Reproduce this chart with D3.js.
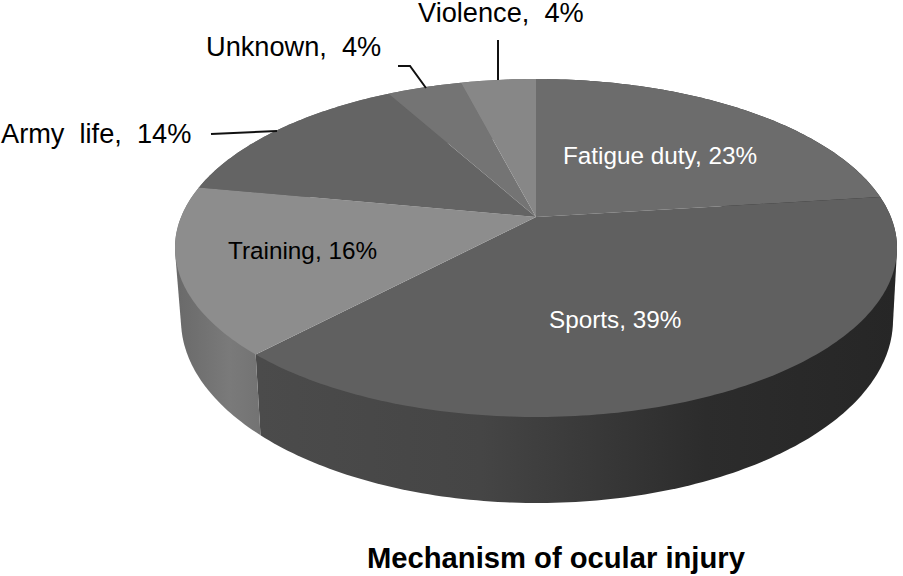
<!DOCTYPE html>
<html>
<head>
<meta charset="utf-8">
<script src="https://cdn.jsdelivr.net/npm/d3@7"></script>
<style>
    html, body { margin: 0; padding: 0; background: #fff; }
    text { font-family: "Liberation Sans", Arial, sans-serif; white-space: pre; }
</style>
</head>
<body>
<svg id="chart" width="903" height="576"></svg>
<script>
    //============================================================
    // Data
    //------------------------------------------------------------

    var categories = ['Fatigue duty', 'Sports', 'Training', 'Army  life', 'Unknown', 'Violence'];
    var values = [23, 39, 16, 14, 4, 4];
    var title = 'Mechanism of ocular injury';

    //============================================================
    // Styles and layout
    //------------------------------------------------------------

    var topColors = ['#6c6c6c', '#606060', '#8d8d8d', '#646464', '#747474', '#878787'];
    var sideFills = ['url(#sideDark)', 'url(#sideDark)', 'url(#sideLight)', '#666', '#666', '#666'];
    var labelColors = ['#fff', '#fff', '#000', '#000', '#000', '#000'];

    var labels = [
        {x: 563, y: 164, size: 24.3},
        {x: 549, y: 328, size: 24.3},
        {x: 228, y: 259, size: 24.3},
        {x: 1, y: 143, size: 27.2},
        {x: 206, y: 56, size: 27.2},
        {x: 418, y: 22, size: 27.2}
    ];

    var leaders = [
        null,
        null,
        null,
        [[211, 134], [277, 131]],
        [[398, 66], [410, 66], [426, 88]],
        [[498, 40], [498, 80]]
    ];

    // ellipse of the top face, and of the lower rim seen through it
    var rim = {cx: 536, cy: 248, rx: 361, ry: 169};
    var lower = {cx: 537, cy: 320, rx: 356, ry: 183};

    // perspective shift of the pie centre inside the ellipse
    var k = 0.183;

    //============================================================
    // Projection of the flat pie onto the tilted disc
    //------------------------------------------------------------

    function project(angle, radius, face) {
        var u = radius * Math.sin(angle),
            v = radius * Math.cos(angle),
            d = 1 + k * v;
        return [
            face.cx + face.rx * u * Math.sqrt(1 - k * k) / d,
            face.cy - face.ry * (v + k) / d
        ];
    }

    function arcPoints(start, end, face) {
        var n = Math.max(2, Math.ceil((end - start) * 60));
        return d3.range(n + 1).map(function(i) {
            return project(start + (end - start) * i / n, 1, face);
        });
    }

    var slices = d3.pie().sort(null)(values);
    var line = d3.line();
    var svg = d3.select('#chart');

    //============================================================
    // Side gradients
    //------------------------------------------------------------

    var defs = svg.append('defs');

    function addGradient(id, x1, x2, stops) {
        var g = defs.append('linearGradient')
            .attr('id', id)
            .attr('gradientUnits', 'userSpaceOnUse')
            .attr('x1', x1).attr('x2', x2)
            .attr('y1', 0).attr('y2', 0);
        stops.forEach(function(s) {
            g.append('stop').attr('offset', s[0]).attr('stop-color', s[1]);
        });
    }

    addGradient('sideDark', 258, 897, [[0, '#4b4b4b'], [0.35, '#454545'], [0.7, '#2c2c2c'], [1, '#262626']]);
    addGradient('sideLight', 178, 264, [[0, '#6a6a6a'], [0.6, '#7a7a7a'], [1, '#727272']]);

    //============================================================
    // Sides, then top face
    //------------------------------------------------------------

    // the hull keeps the straight silhouette where the two rims cross;
    // whatever it adds above the rim is covered by the top face
    svg.append('g').selectAll('path')
        .data(slices)
        .enter().append('path')
        .attr('fill', function(d, i) { return sideFills[i]; })
        .attr('d', function(d) {
            var upper = arcPoints(d.startAngle, d.endAngle, rim),
                under = arcPoints(d.startAngle, d.endAngle, lower);
            return line(d3.polygonHull(upper.concat(under))) + 'Z';
        });

    svg.append('g').selectAll('path')
        .data(slices)
        .enter().append('path')
        .attr('fill', function(d, i) { return topColors[i]; })
        .attr('d', function(d) {
            var centre = project(0, 0, rim);
            return line([centre].concat(arcPoints(d.startAngle, d.endAngle, rim))) + 'Z';
        });

    //============================================================
    // Leader lines and labels
    //------------------------------------------------------------

    svg.append('g').selectAll('path')
        .data(leaders.filter(Boolean))
        .enter().append('path')
        .attr('fill', 'none')
        .attr('stroke', '#111')
        .attr('stroke-width', 2)
        .attr('d', function(d) { return line(d); });

    svg.append('g').selectAll('text')
        .data(categories)
        .enter().append('text')
        .attr('x', function(d, i) { return labels[i].x; })
        .attr('y', function(d, i) { return labels[i].y; })
        .attr('font-size', function(d, i) { return labels[i].size; })
        .attr('fill', function(d, i) { return labelColors[i]; })
        .text(function(d, i) {
            var gap = labels[i].size > 25 ? ',  ' : ', ';
            return d + gap + values[i] + '%';
        });

    svg.append('text')
        .attr('x', 367)
        .attr('y', 568)
        .attr('font-size', 29.2)
        .attr('font-weight', 'bold')
        .attr('fill', '#000')
        .text(title);
</script>
</body>
</html>
